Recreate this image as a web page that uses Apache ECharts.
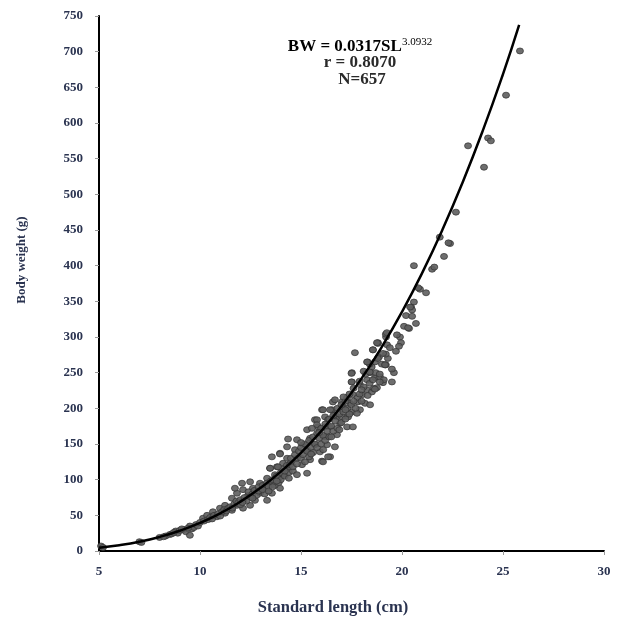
<!DOCTYPE html>
<html>
<head>
<meta charset="utf-8">
<script src="https://cdn.jsdelivr.net/npm/echarts@6/dist/echarts.min.js"></script>
<style>html,body{margin:0;padding:0;background:#fff}#c{width:618px;height:621px}</style>
</head>
<body>
<div id="c"></div>
<script>
// Fitted curve BW = 0.0317 SL^3.0932 (values read/computed at listed lengths)
var curveSL = [5, 6, 7, 8, 9, 10, 11, 12, 13, 14, 15, 16, 17, 18, 19, 20, 21, 22, 23, 24, 25, 25.8];
var curveBW = [4.6, 8.1, 13.0, 19.7, 28.4, 39.3, 52.8, 69.1, 88.5, 111.2, 137.7, 168.1, 202.8, 242.0, 286.1, 335.3, 389.9, 450.2, 516.6, 589.3, 668.6, 737.7];

// Observed fish (standard length cm, body weight g)
var obsSmall = [[5.1,7],[5.2,5],[7.0,13],[7.1,12],[8.0,19],[8.3,21],[8.5,23],[8.6,24],[8.8,28],[8.9,25],[9.0,29],[9.2,30],[9.3,27],[9.5,22],[9.5,35],[9.6,31],[9.7,33],[9.8,37],[9.9,35],[8.2,20],[8.7,26],[9.1,31],[9.4,32]];
var obsMid = [[10.15,46],[10.35,50],[10.64,55],[10.84,48],[10.99,60],[11.24,64],[11.24,53],[11.58,57],[11.58,74],[11.83,64],[11.83,81],[11.73,88],[12.13,60],[12.13,71],[12.13,86],[12.08,95],[12.38,78],[12.48,64],[12.48,97],[12.62,88],[12.72,71],[12.97,81],[12.97,95],[13.32,71],[13.32,88],[13.32,102],[13.47,116],[13.56,81],[13.56,132],[13.61,95],[13.71,107],[13.81,118],[13.96,88],[13.96,104],[13.96,137],[14.11,107],[14.11,123],[14.31,146],[14.36,116],[14.36,157],
[10.0,40],[10.2,42],[10.4,44],[10.5,47],[10.6,45],[10.7,50],[10.9,52],[11.0,49],[11.1,55],[11.2,58],[11.3,56],[11.4,60],[11.5,62],[11.6,60],[11.7,66],[11.8,70],[11.9,68],[12.0,72],[12.0,65],[12.2,75],[12.3,70],[12.4,83],[12.5,76],[12.6,80],[12.7,85],[12.8,78],[12.9,90],[13.0,84],[13.1,92],[13.2,80],[13.3,95],[13.4,90],[13.5,98],[13.6,100],[13.7,92],[13.8,105],[13.9,96],[14.0,110],[14.0,100],[14.1,115],[14.2,105],[14.3,120],[14.4,110],[14.5,125],
[12.1,68],[12.6,74],[12.9,84],[13.1,86],[13.4,84],[13.6,90],[13.8,98],[14.2,112],[14.4,102],[14.6,112]];
var obsLarge = [[16.58,209],[16.04,198],[16.53,198],[15.69,184],[16.19,188],[16.78,188],[15.30,170],[15.84,174],[16.44,174],[16.78,163],[16.19,160],[14.80,156],[15.45,158],[15.10,149],[15.69,149],[16.29,149],[16.68,146],[14.70,142],[15.30,142],[15.94,139],[16.44,132],[13.96,136],[14.31,130],[14.80,130],[15.45,128],[16.04,126],[16.34,132],[13.86,118],[14.46,121],[15.05,121],[13.47,116],[15.30,109],[14.80,107],[16.09,125],
[18.81,292],[18.56,282],[19.21,300],[19.26,289],[19.16,261],[18.86,272],[18.66,265],[17.52,250],[17.52,237],[18.42,250],[18.66,243],[18.27,240],[18.91,244],[19.06,236],[18.76,229],[18.27,226],[17.92,233],[18.02,219],[18.51,223],[17.57,219],[17.28,215],[17.03,209],[17.43,207],[17.82,209],[18.17,207],[18.42,205],[17.92,198],[17.52,195],[17.08,202],[16.68,212],[16.44,198],[16.09,198],[16.68,191],[17.03,188],[17.33,188],[17.77,193],[15.79,184],[16.34,184],[15.79,177],[16.19,174],[16.93,179],[17.28,174],[17.57,174],[15.54,172],
[14.5,130],[14.6,118],[14.7,135],[14.8,122],[14.9,140],[15.0,130],[15.0,145],[15.1,135],[15.2,150],[15.2,125],[15.3,140],[15.4,155],[15.4,132],[15.5,145],[15.6,160],[15.6,138],[15.7,150],[15.8,165],[15.8,145],[15.9,158],[16.0,172],[16.0,150],[16.1,162],[16.2,178],[16.2,155],[16.3,168],[16.4,185],[16.4,160],[16.5,175],[16.6,190],[16.6,168],[16.7,182],[16.8,200],[16.8,172],[16.9,192],[17.0,205],[17.0,180],[17.1,195],[17.2,210],[17.2,185],[17.3,200],[17.4,220],[17.4,192],[17.5,205],[17.6,228],[17.7,200],[17.8,215],[17.9,238],[18.0,210],[18.1,230],[18.2,248],[18.3,218],[18.4,235],[18.5,258],[18.6,228],[18.7,250],[18.8,270],[18.9,248],[19.0,262],[19.1,240],[19.3,270],[19.6,250],[19.7,280],[19.9,300],[20.1,315],[20.2,330],
[15.0,152],[15.5,136],[15.9,166],[16.1,142],[16.5,160],[16.9,170],[17.2,198],[17.6,210],[17.9,220],[18.1,252],[18.4,262]];
var obsTop = [[20.59,400],[21.49,395],[20.89,367],[21.19,362],[20.59,349],[20.45,342],[20.5,338],[20.5,329],[20.69,319],[20.35,312],[19.2,304],[19.75,303],[18.8,291],[19.95,292],[19.85,287],[19.4,285],[18.56,282],[17.67,278],[18.3,265],[19.2,276],[19.2,261],[19.5,255],[17.5,249],[17.5,237],[18.4,251],[18.56,240],[18.9,237],[19.5,237],[18.0,226],[18.66,227],[17.1,216],[20.8,369],[20.4,342],[20.3,313],[19.25,306],[18.76,292],[19.06,277],[18.27,265],[19.16,261],
[25.84,701],[25.15,639],[24.26,579],[24.4,575],[24.06,538],[23.27,568],[22.67,475],[22.38,431],[22.3,432],[21.87,440],[22.08,413],[21.6,398]];

var xTicks = [5, 10, 15, 20, 25, 30];
var yTicks = [0, 50, 100, 150, 200, 250, 300, 350, 400, 450, 500, 550, 600, 650, 700, 750];

var observed = obsSmall.concat(obsMid, obsLarge, obsTop);
var curve = curveSL.map(function (s, i) { return [s, curveBW[i]]; });

var chart = echarts.init(document.getElementById('c'), null, {renderer: 'canvas'});
var labelFont = {fontFamily: 'Liberation Serif', fontSize: 13, fontWeight: 'bold', color: '#2a3350'};
chart.setOption({
  animation: false,
  backgroundColor: '#fff',
  grid: {left: 99, right: 14, top: 16, bottom: 70, containLabel: false},
  xAxis: {
    type: 'value', min: xTicks[0], max: xTicks[xTicks.length - 1], interval: 5,
    axisLine: {lineStyle: {color: '#000', width: 2}},
    axisTick: {show: true, length: 4, lineStyle: {color: '#999', width: 1}},
    axisLabel: Object.assign({margin: 14}, labelFont),
    splitLine: {show: false}
  },
  yAxis: {
    type: 'value', min: yTicks[0], max: yTicks[yTicks.length - 1], interval: 50,
    axisLine: {show: true, lineStyle: {color: '#000', width: 2}},
    axisTick: {show: true, length: 4, lineStyle: {color: '#999', width: 1}},
    axisLabel: Object.assign({margin: 16}, labelFont),
    splitLine: {show: false}
  },
  graphic: [
    {type: 'text', x: 333, y: 608, style: {text: 'Standard length (cm)', font: 'bold 16.5px "Liberation Serif"', fill: '#2a3350', textAlign: 'center', textVerticalAlign: 'middle'}},
    {type: 'text', x: 22, y: 260, rotation: Math.PI / 2, style: {text: 'Body weight (g)', font: 'bold 13px "Liberation Serif"', fill: '#2a3350', textAlign: 'center', textVerticalAlign: 'middle'}},
    {type: 'text', x: 360, y: 47, style: {
      rich: {n: {fontSize: 17, fontWeight: 'bold', fontFamily: 'Liberation Serif', color: '#2a2a2a'},
             s: {fontSize: 11, fontFamily: 'Liberation Serif', color: '#2a2a2a', verticalAlign: 'top', padding: [0, 0, 9, 0]}},
      text: '{n|BW = 0.0317SL}{s|3.0932}', textAlign: 'center', textVerticalAlign: 'middle'
    }},
    {type: 'text', x: 360, y: 63, style: {text: 'r = 0.8070', font: 'bold 17px "Liberation Serif"', fill: '#2a2a2a', textAlign: 'center', textVerticalAlign: 'middle'}},
    {type: 'text', x: 362, y: 80, style: {text: 'N=657', font: 'bold 17px "Liberation Serif"', fill: '#2a2a2a', textAlign: 'center', textVerticalAlign: 'middle'}}
  ],
  series: [
    {
      type: 'scatter', data: observed, symbol: 'circle', symbolSize: [7, 6],
      itemStyle: {color: '#5e5e5e', borderColor: '#333', borderWidth: 0.8, opacity: 0.9},
      z: 2
    },
    {
      type: 'line', data: curve, smooth: true, showSymbol: false, symbol: 'none',
      lineStyle: {color: '#000', width: 2.5}, z: 3
    }
  ]
});
</script>
</body>
</html>
